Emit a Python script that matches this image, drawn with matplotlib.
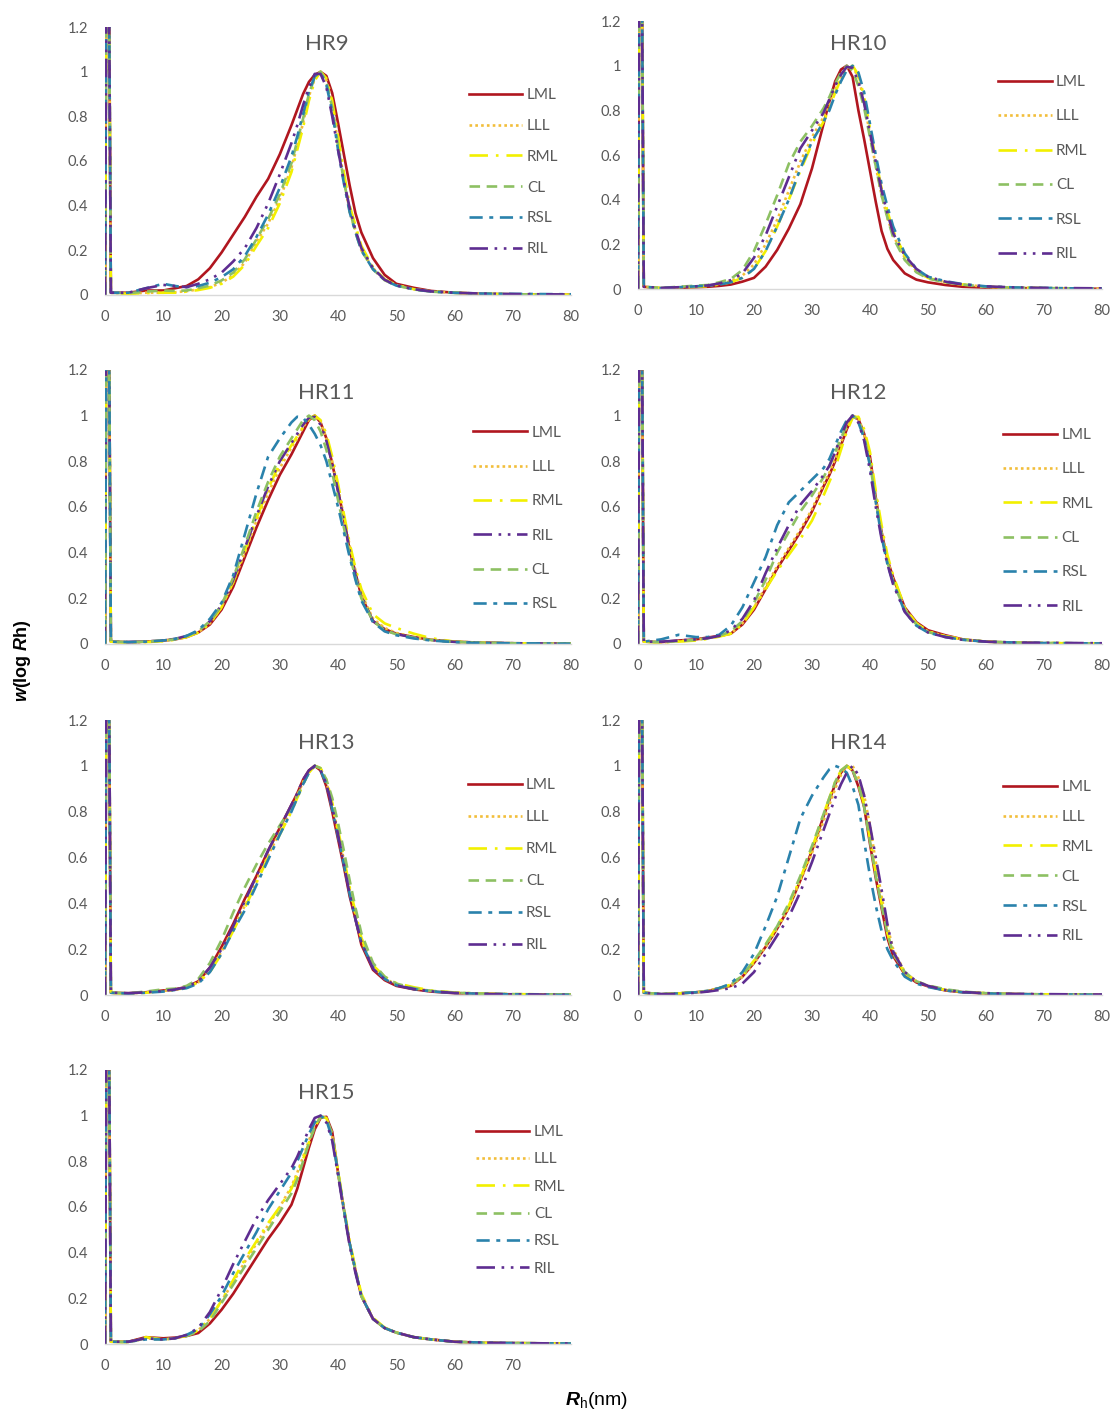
import matplotlib.pyplot as plt
import matplotlib.ticker as tck

plt.rcParams['font.family'] = ['Lato', 'DejaVu Sans']
plt.rcParams['mathtext.fontset'] = 'custom'
plt.rcParams['mathtext.rm'] = 'Liberation Sans'
plt.rcParams['mathtext.it'] = 'Liberation Sans:italic'
plt.rcParams['mathtext.bf'] = 'Liberation Sans:bold'
plt.rcParams['mathtext.bfit'] = 'Liberation Sans:bold:italic'

# hydrodynamic radius grid (nm), shared by every series
RH = [0, 0.2, 0.7, 1, 4, 7, 10, 12, 14, 16, 18, 20, 22, 24, 26, 28, 30, 32, 33, 34, 35, 36,
      37, 38, 39, 40, 41, 42, 43, 44, 46, 48, 50, 53, 56, 60, 65, 70, 75, 80]

# HR9
HR9_LML = [0, 1.3, 1.3, 0.01, 0.01, 0.02, 0.02, 0.03, 0.04, 0.07, 0.12, 0.19, 0.27, 0.35, 0.44, 0.52, 0.63, 0.76, 0.83, 0.9, 0.954, 0.986, 0.999, 0.981, 0.904, 0.77, 0.63, 0.49, 0.365, 0.28, 0.165, 0.09, 0.05, 0.032, 0.018, 0.01, 0.005, 0.003, 0.002, 0.001]
HR9_LLL = [0, 1.3, 1.3, 0.01, 0.005, 0.01, 0.01, 0.012, 0.017, 0.025, 0.035, 0.055, 0.088, 0.145, 0.24, 0.32, 0.43, 0.57, 0.67, 0.77, 0.89, 0.97, 1.0, 0.962, 0.85, 0.68, 0.52, 0.37, 0.29, 0.2, 0.12, 0.068, 0.044, 0.025, 0.016, 0.01, 0.005, 0.003, 0.002, 0.001]
HR9_RML = [0, 1.3, 1.3, 0.01, 0.005, 0.008, 0.01, 0.01, 0.015, 0.022, 0.032, 0.05, 0.082, 0.135, 0.22, 0.3, 0.41, 0.55, 0.65, 0.75, 0.87, 0.96, 1.0, 0.97, 0.87, 0.71, 0.55, 0.4, 0.31, 0.22, 0.125, 0.07, 0.045, 0.026, 0.016, 0.01, 0.005, 0.003, 0.002, 0.001]
HR9_CL = [0, 1.3, 1.3, 0.01, 0.008, 0.015, 0.02, 0.018, 0.02, 0.03, 0.042, 0.065, 0.1, 0.16, 0.25, 0.34, 0.45, 0.59, 0.69, 0.79, 0.9, 0.975, 1.0, 0.955, 0.84, 0.67, 0.51, 0.38, 0.28, 0.2, 0.115, 0.066, 0.042, 0.025, 0.015, 0.009, 0.005, 0.003, 0.002, 0.001]
HR9_RSL = [0, 1.3, 1.3, 0.01, 0.01, 0.03, 0.05, 0.04, 0.035, 0.04, 0.055, 0.08, 0.115, 0.175, 0.26, 0.36, 0.48, 0.62, 0.71, 0.81, 0.91, 0.98, 0.995, 0.94, 0.82, 0.65, 0.5, 0.37, 0.28, 0.2, 0.115, 0.066, 0.042, 0.025, 0.015, 0.01, 0.006, 0.005, 0.004, 0.003]
HR9_RIL = [0, 1.3, 1.3, 0.01, 0.01, 0.03, 0.045, 0.04, 0.035, 0.05, 0.07, 0.1, 0.15, 0.21, 0.3, 0.41, 0.54, 0.68, 0.76, 0.85, 0.93, 0.99, 0.99, 0.93, 0.8, 0.65, 0.51, 0.39, 0.29, 0.21, 0.12, 0.068, 0.043, 0.026, 0.016, 0.01, 0.006, 0.004, 0.003, 0.002]

# HR10
HR10_LML = [0, 1.3, 1.3, 0.01, 0.003, 0.005, 0.008, 0.01, 0.014, 0.02, 0.033, 0.05, 0.1, 0.175, 0.27, 0.38, 0.54, 0.74, 0.84, 0.93, 0.983, 1.0, 0.95, 0.8, 0.67, 0.53, 0.39, 0.26, 0.18, 0.13, 0.07, 0.042, 0.03, 0.018, 0.01, 0.006, 0.004, 0.003, 0.002, 0.001]
HR10_LLL = [0, 1.3, 1.3, 0.01, 0.004, 0.008, 0.012, 0.015, 0.022, 0.035, 0.06, 0.11, 0.2, 0.31, 0.44, 0.57, 0.68, 0.77, 0.83, 0.89, 0.95, 0.99, 0.995, 0.95, 0.84, 0.69, 0.55, 0.42, 0.32, 0.24, 0.14, 0.08, 0.05, 0.03, 0.02, 0.01, 0.006, 0.004, 0.003, 0.002]
HR10_RML = [0, 1.3, 1.3, 0.01, 0.004, 0.007, 0.01, 0.013, 0.02, 0.03, 0.05, 0.09, 0.17, 0.28, 0.4, 0.53, 0.65, 0.75, 0.81, 0.88, 0.94, 0.985, 1.0, 0.96, 0.86, 0.72, 0.58, 0.45, 0.35, 0.26, 0.15, 0.085, 0.05, 0.03, 0.02, 0.01, 0.006, 0.004, 0.003, 0.002]
HR10_CL = [0, 1.3, 1.3, 0.01, 0.005, 0.01, 0.015, 0.018, 0.03, 0.045, 0.085, 0.17, 0.29, 0.42, 0.56, 0.66, 0.73, 0.81, 0.86, 0.92, 0.97, 1.0, 0.98, 0.91, 0.81, 0.68, 0.55, 0.42, 0.32, 0.23, 0.13, 0.075, 0.047, 0.03, 0.02, 0.01, 0.006, 0.004, 0.003, 0.002]
HR10_RSL = [0, 1.3, 1.3, 0.01, 0.004, 0.008, 0.012, 0.015, 0.02, 0.03, 0.05, 0.09, 0.17, 0.28, 0.4, 0.54, 0.66, 0.75, 0.8, 0.87, 0.93, 0.98, 1.0, 0.97, 0.88, 0.74, 0.6, 0.47, 0.37, 0.28, 0.16, 0.09, 0.055, 0.035, 0.022, 0.012, 0.007, 0.005, 0.003, 0.002]
HR10_RIL = [0, 1.3, 1.3, 0.01, 0.005, 0.008, 0.012, 0.016, 0.025, 0.04, 0.07, 0.14, 0.24, 0.37, 0.5, 0.63, 0.71, 0.79, 0.85, 0.91, 0.96, 0.995, 0.99, 0.93, 0.83, 0.7, 0.57, 0.44, 0.34, 0.25, 0.15, 0.09, 0.055, 0.033, 0.02, 0.012, 0.007, 0.005, 0.004, 0.003]

# HR11
HR11_LML = [0, 1.3, 1.3, 0.01, 0.008, 0.01, 0.015, 0.02, 0.03, 0.05, 0.085, 0.15, 0.25, 0.38, 0.51, 0.63, 0.74, 0.83, 0.88, 0.93, 0.98, 1.0, 0.97, 0.9, 0.79, 0.67, 0.55, 0.41, 0.31, 0.21, 0.1, 0.065, 0.045, 0.03, 0.018, 0.01, 0.005, 0.003, 0.002, 0.001]
HR11_LLL = [0, 1.3, 1.3, 0.01, 0.006, 0.008, 0.013, 0.02, 0.03, 0.05, 0.09, 0.16, 0.27, 0.4, 0.54, 0.66, 0.77, 0.86, 0.9, 0.95, 0.985, 1.0, 0.97, 0.9, 0.8, 0.68, 0.56, 0.43, 0.32, 0.22, 0.11, 0.07, 0.048, 0.03, 0.018, 0.01, 0.005, 0.003, 0.002, 0.001]
HR11_RML = [0, 1.3, 1.3, 0.01, 0.005, 0.008, 0.012, 0.018, 0.03, 0.05, 0.09, 0.16, 0.27, 0.41, 0.55, 0.68, 0.79, 0.87, 0.91, 0.95, 0.985, 1.0, 0.98, 0.92, 0.82, 0.7, 0.57, 0.44, 0.33, 0.24, 0.13, 0.09, 0.07, 0.045, 0.025, 0.01, 0.005, 0.003, 0.002, 0.001]
HR11_RIL = [0, 1.3, 1.3, 0.01, 0.008, 0.01, 0.016, 0.022, 0.035, 0.055, 0.1, 0.17, 0.28, 0.42, 0.56, 0.69, 0.8, 0.88, 0.92, 0.96, 0.99, 0.995, 0.96, 0.89, 0.79, 0.67, 0.54, 0.41, 0.3, 0.21, 0.1, 0.062, 0.043, 0.028, 0.017, 0.009, 0.005, 0.003, 0.002, 0.001]
HR11_CL = [0, 1.3, 1.3, 0.01, 0.008, 0.01, 0.015, 0.02, 0.035, 0.055, 0.1, 0.17, 0.29, 0.43, 0.58, 0.71, 0.82, 0.9, 0.94, 0.98, 1.0, 0.98, 0.93, 0.85, 0.75, 0.63, 0.51, 0.39, 0.29, 0.2, 0.1, 0.06, 0.042, 0.027, 0.017, 0.009, 0.005, 0.003, 0.002, 0.001]
HR11_RSL = [0, 1.3, 1.3, 0.01, 0.008, 0.01, 0.015, 0.022, 0.035, 0.06, 0.11, 0.18, 0.3, 0.48, 0.66, 0.82, 0.9, 0.97, 0.995, 0.99, 0.96, 0.92, 0.87, 0.8, 0.7, 0.6, 0.49, 0.38, 0.28, 0.19, 0.095, 0.055, 0.038, 0.024, 0.015, 0.008, 0.004, 0.003, 0.002, 0.001]

# HR12
HR12_LML = [0, 1.3, 1.3, 0.01, 0.008, 0.015, 0.02, 0.028, 0.035, 0.045, 0.085, 0.15, 0.24, 0.33, 0.41, 0.49, 0.58, 0.69, 0.74, 0.8, 0.87, 0.94, 0.995, 0.985, 0.92, 0.82, 0.64, 0.49, 0.37, 0.29, 0.16, 0.095, 0.06, 0.038, 0.02, 0.01, 0.005, 0.003, 0.002, 0.001]
HR12_LLL = [0, 1.3, 1.3, 0.01, 0.006, 0.012, 0.018, 0.025, 0.033, 0.045, 0.09, 0.16, 0.25, 0.34, 0.42, 0.5, 0.59, 0.7, 0.75, 0.81, 0.88, 0.95, 1.0, 0.99, 0.92, 0.8, 0.64, 0.49, 0.37, 0.28, 0.155, 0.09, 0.055, 0.034, 0.02, 0.01, 0.006, 0.004, 0.003, 0.002]
HR12_RML = [0, 1.3, 1.3, 0.01, 0.006, 0.01, 0.015, 0.022, 0.032, 0.045, 0.085, 0.16, 0.24, 0.32, 0.39, 0.46, 0.54, 0.65, 0.71, 0.77, 0.85, 0.93, 0.99, 0.995, 0.94, 0.84, 0.67, 0.52, 0.39, 0.3, 0.16, 0.09, 0.055, 0.034, 0.02, 0.01, 0.006, 0.004, 0.003, 0.002]
HR12_CL = [0, 1.3, 1.3, 0.01, 0.008, 0.012, 0.018, 0.025, 0.035, 0.055, 0.1, 0.18, 0.28, 0.4, 0.49, 0.58, 0.65, 0.73, 0.78, 0.84, 0.9, 0.96, 1.0, 0.98, 0.91, 0.79, 0.63, 0.48, 0.36, 0.27, 0.15, 0.085, 0.052, 0.032, 0.019, 0.01, 0.006, 0.004, 0.003, 0.002]
HR12_RSL = [0, 1.3, 1.3, 0.01, 0.02, 0.04, 0.03, 0.03, 0.04, 0.08, 0.16, 0.27, 0.38, 0.52, 0.62, 0.67, 0.72, 0.77, 0.81, 0.87, 0.93, 0.98, 1.0, 0.97, 0.9, 0.78, 0.62, 0.47, 0.35, 0.27, 0.14, 0.08, 0.05, 0.03, 0.018, 0.01, 0.006, 0.004, 0.003, 0.002]
HR12_RIL = [0, 1.3, 1.3, 0.01, 0.01, 0.015, 0.02, 0.025, 0.035, 0.06, 0.11, 0.19, 0.31, 0.42, 0.52, 0.61, 0.67, 0.74, 0.78, 0.84, 0.91, 0.97, 1.0, 0.97, 0.89, 0.76, 0.6, 0.46, 0.35, 0.26, 0.14, 0.08, 0.05, 0.03, 0.018, 0.01, 0.006, 0.005, 0.004, 0.003]

# HR13
HR13_LML = [0, 1.3, 1.3, 0.01, 0.008, 0.012, 0.02, 0.025, 0.035, 0.06, 0.12, 0.21, 0.31, 0.42, 0.52, 0.63, 0.73, 0.83, 0.88, 0.94, 0.98, 1.0, 0.98, 0.91, 0.8, 0.68, 0.56, 0.43, 0.33, 0.22, 0.11, 0.065, 0.04, 0.025, 0.015, 0.008, 0.005, 0.003, 0.002, 0.001]
HR13_LLL = [0, 1.3, 1.3, 0.01, 0.006, 0.012, 0.018, 0.022, 0.032, 0.055, 0.11, 0.19, 0.29, 0.39, 0.5, 0.61, 0.71, 0.81, 0.87, 0.93, 0.975, 1.0, 0.99, 0.93, 0.83, 0.71, 0.59, 0.46, 0.35, 0.24, 0.12, 0.072, 0.046, 0.03, 0.018, 0.01, 0.005, 0.003, 0.002, 0.001]
HR13_RML = [0, 1.3, 1.3, 0.01, 0.005, 0.01, 0.02, 0.022, 0.033, 0.055, 0.1, 0.18, 0.28, 0.38, 0.49, 0.6, 0.7, 0.8, 0.86, 0.92, 0.97, 1.0, 0.99, 0.94, 0.84, 0.72, 0.6, 0.47, 0.36, 0.25, 0.13, 0.08, 0.052, 0.034, 0.02, 0.011, 0.006, 0.004, 0.003, 0.002]
HR13_CL = [0, 1.3, 1.3, 0.01, 0.008, 0.015, 0.025, 0.028, 0.04, 0.07, 0.14, 0.24, 0.36, 0.47, 0.57, 0.66, 0.74, 0.82, 0.87, 0.92, 0.97, 1.0, 0.99, 0.94, 0.86, 0.75, 0.63, 0.5, 0.38, 0.27, 0.14, 0.08, 0.05, 0.03, 0.018, 0.01, 0.006, 0.004, 0.003, 0.002]
HR13_RSL = [0, 1.3, 1.3, 0.01, 0.006, 0.01, 0.015, 0.022, 0.03, 0.05, 0.1, 0.18, 0.28, 0.37, 0.48, 0.59, 0.7, 0.8, 0.86, 0.92, 0.97, 1.0, 0.98, 0.92, 0.81, 0.69, 0.57, 0.44, 0.33, 0.23, 0.12, 0.07, 0.043, 0.026, 0.016, 0.009, 0.005, 0.003, 0.002, 0.001]
HR13_RIL = [0, 1.3, 1.3, 0.01, 0.008, 0.012, 0.018, 0.024, 0.034, 0.06, 0.12, 0.2, 0.3, 0.41, 0.52, 0.63, 0.73, 0.83, 0.88, 0.94, 0.98, 1.0, 0.98, 0.92, 0.82, 0.7, 0.57, 0.44, 0.33, 0.23, 0.115, 0.068, 0.042, 0.026, 0.016, 0.009, 0.005, 0.003, 0.002, 0.001]

# HR14
HR14_LML = [0, 1.3, 1.3, 0.01, 0.004, 0.007, 0.012, 0.017, 0.03, 0.04, 0.08, 0.14, 0.21, 0.29, 0.38, 0.5, 0.63, 0.78, 0.85, 0.92, 0.97, 1.0, 0.98, 0.91, 0.82, 0.66, 0.51, 0.38, 0.25, 0.17, 0.09, 0.055, 0.038, 0.02, 0.012, 0.007, 0.004, 0.003, 0.002, 0.001]
HR14_LLL = [0, 1.3, 1.3, 0.01, 0.004, 0.007, 0.012, 0.016, 0.028, 0.04, 0.08, 0.14, 0.21, 0.29, 0.38, 0.5, 0.62, 0.76, 0.83, 0.9, 0.96, 0.99, 1.0, 0.95, 0.87, 0.74, 0.58, 0.43, 0.3, 0.2, 0.1, 0.06, 0.04, 0.022, 0.013, 0.008, 0.004, 0.003, 0.002, 0.001]
HR14_RML = [0, 1.3, 1.3, 0.01, 0.004, 0.007, 0.012, 0.016, 0.03, 0.045, 0.085, 0.15, 0.22, 0.3, 0.39, 0.51, 0.64, 0.79, 0.86, 0.93, 0.98, 1.0, 0.98, 0.92, 0.83, 0.68, 0.53, 0.4, 0.27, 0.18, 0.095, 0.058, 0.04, 0.022, 0.013, 0.008, 0.004, 0.003, 0.002, 0.001]
HR14_CL = [0, 1.3, 1.3, 0.01, 0.004, 0.008, 0.013, 0.018, 0.03, 0.045, 0.085, 0.15, 0.22, 0.3, 0.4, 0.52, 0.65, 0.79, 0.86, 0.93, 0.98, 1.0, 0.98, 0.92, 0.82, 0.67, 0.52, 0.39, 0.27, 0.18, 0.1, 0.06, 0.042, 0.025, 0.015, 0.008, 0.004, 0.003, 0.002, 0.001]
HR14_RSL = [0, 1.3, 1.3, 0.01, 0.004, 0.007, 0.012, 0.018, 0.03, 0.05, 0.1, 0.18, 0.3, 0.43, 0.6, 0.77, 0.87, 0.95, 0.985, 1.0, 0.99, 0.97, 0.91, 0.83, 0.67, 0.52, 0.39, 0.28, 0.2, 0.15, 0.08, 0.05, 0.035, 0.02, 0.012, 0.007, 0.004, 0.003, 0.002, 0.001]
HR14_RIL = [0, 1.3, 1.3, 0.01, 0.003, 0.005, 0.01, 0.015, 0.022, 0.03, 0.05, 0.1, 0.18, 0.26, 0.34, 0.45, 0.58, 0.72, 0.79, 0.86, 0.92, 0.97, 1.0, 0.96, 0.87, 0.74, 0.6, 0.46, 0.31, 0.19, 0.1, 0.06, 0.04, 0.022, 0.013, 0.008, 0.005, 0.004, 0.003, 0.002]

# HR15
HR15_LML = [0, 1.3, 1.3, 0.01, 0.01, 0.03, 0.025, 0.028, 0.035, 0.048, 0.09, 0.15, 0.22, 0.3, 0.38, 0.46, 0.53, 0.61, 0.68, 0.77, 0.86, 0.94, 0.99, 0.995, 0.93, 0.75, 0.59, 0.44, 0.32, 0.21, 0.11, 0.07, 0.05, 0.03, 0.02, 0.01, 0.005, 0.004, 0.003, 0.002]
HR15_LLL = [0, 1.3, 1.3, 0.01, 0.008, 0.025, 0.02, 0.025, 0.035, 0.06, 0.11, 0.19, 0.27, 0.36, 0.44, 0.52, 0.6, 0.69, 0.75, 0.82, 0.89, 0.96, 1.0, 0.99, 0.91, 0.75, 0.59, 0.44, 0.32, 0.21, 0.11, 0.07, 0.05, 0.03, 0.02, 0.01, 0.005, 0.004, 0.003, 0.002]
HR15_RML = [0, 1.3, 1.3, 0.01, 0.008, 0.03, 0.02, 0.025, 0.036, 0.06, 0.11, 0.19, 0.28, 0.37, 0.45, 0.53, 0.6, 0.68, 0.74, 0.81, 0.88, 0.95, 0.995, 0.99, 0.92, 0.76, 0.6, 0.45, 0.33, 0.22, 0.115, 0.072, 0.05, 0.03, 0.02, 0.01, 0.005, 0.004, 0.003, 0.002]
HR15_CL = [0, 1.3, 1.3, 0.01, 0.008, 0.025, 0.02, 0.025, 0.035, 0.055, 0.1, 0.18, 0.26, 0.34, 0.42, 0.5, 0.58, 0.66, 0.72, 0.8, 0.88, 0.95, 0.995, 0.99, 0.92, 0.75, 0.59, 0.44, 0.32, 0.21, 0.11, 0.07, 0.05, 0.03, 0.02, 0.01, 0.005, 0.004, 0.003, 0.002]
HR15_RSL = [0, 1.3, 1.3, 0.01, 0.01, 0.02, 0.02, 0.025, 0.04, 0.065, 0.13, 0.21, 0.31, 0.4, 0.49, 0.59, 0.67, 0.75, 0.8, 0.86, 0.92, 0.97, 1.0, 0.98, 0.9, 0.75, 0.59, 0.44, 0.32, 0.21, 0.11, 0.07, 0.05, 0.03, 0.02, 0.01, 0.006, 0.004, 0.003, 0.002]
HR15_RIL = [0, 1.3, 1.3, 0.01, 0.01, 0.025, 0.02, 0.025, 0.04, 0.07, 0.14, 0.24, 0.35, 0.45, 0.55, 0.63, 0.7, 0.77, 0.82, 0.88, 0.94, 0.99, 1.0, 0.97, 0.89, 0.74, 0.58, 0.43, 0.31, 0.21, 0.11, 0.07, 0.05, 0.03, 0.02, 0.01, 0.006, 0.004, 0.003, 0.002]

LINE_STYLES = {
    'LML': dict(color='#B0161F', linestyle='-'),
    'LLL': dict(color='#F2BE3A', linestyle=(0, (1, 1.2))),
    'RML': dict(color='#F2F000', linestyle=(0, (7, 3, 1, 3))),
    'CL': dict(color='#8DC063', linestyle=(0, (4, 2.5))),
    'RSL': dict(color='#2A82AC', linestyle=(0, (5, 2.5, 1.5, 2.5))),
    'RIL': dict(color='#5E2D91', linestyle=(0, (7, 2.5, 1, 2.5, 1, 2.5))),
}

# (title, series in drawing order, axes rect, legend anchor, legend label spacing, title y)
PANELS = [
    ('HR9', [('LML', HR9_LML), ('LLL', HR9_LLL), ('RML', HR9_RML), ('CL', HR9_CL), ('RSL', HR9_RSL), ('RIL', HR9_RIL)],
     [0.0943, 0.7914, 0.4183, 0.1895], (0.781, 0.772), 1.10, 0.937),
    ('HR10', [('LML', HR10_LML), ('LLL', HR10_LLL), ('RML', HR10_RML), ('CL', HR10_CL), ('RSL', HR10_RSL), ('RIL', HR10_RIL)],
     [0.5727, 0.7956, 0.4165, 0.1895], (0.776, 0.799), 1.34, 0.914),
    ('HR11', [('LML', HR11_LML), ('LLL', HR11_LLL), ('RML', HR11_RML), ('RIL', HR11_RIL), ('CL', HR11_CL), ('RSL', HR11_RSL)],
     [0.0943, 0.5446, 0.4183, 0.1938], (0.790, 0.796), 1.33, 0.916),
    ('HR12', [('LML', HR12_LML), ('LLL', HR12_LLL), ('RML', HR12_RML), ('CL', HR12_CL), ('RSL', HR12_RSL), ('RIL', HR12_RIL)],
     [0.5727, 0.5446, 0.4165, 0.1938], (0.787, 0.788), 1.33, 0.916),
    ('HR13', [('LML', HR13_LML), ('LLL', HR13_LLL), ('RML', HR13_RML), ('CL', HR13_CL), ('RSL', HR13_RSL), ('RIL', HR13_RIL)],
     [0.0943, 0.2963, 0.4183, 0.1945], (0.779, 0.789), 1.18, 0.916),
    ('HR14', [('LML', HR14_LML), ('LLL', HR14_LLL), ('RML', HR14_RML), ('CL', HR14_CL), ('RSL', HR14_RSL), ('RIL', HR14_RIL)],
     [0.5727, 0.2963, 0.4165, 0.1945], (0.787, 0.782), 1.04, 0.916),
    ('HR15', [('LML', HR15_LML), ('LLL', HR15_LLL), ('RML', HR15_RML), ('CL', HR15_CL), ('RSL', HR15_RSL), ('RIL', HR15_RIL)],
     [0.0943, 0.0495, 0.4183, 0.1938], (0.796, 0.799), 0.87, 0.916),
]

TEXT_GREY = '#595959'

fig = plt.figure(figsize=(11.14, 14.14), dpi=100)

for title, series, rect, anchor, spacing, title_y in PANELS:
    ax = fig.add_axes(rect)
    for name, values in series:
        assert len(values) == len(RH), (title, name, len(values))
        ax.plot(RH, values, lw=1.9, label=name, **LINE_STYLES[name])

    ax.set_xlim(0, 80)
    ax.set_ylim(0, 1.2)
    if title == 'HR15':
        ax.set_xticks(range(0, 80, 10))
    else:
        ax.set_xticks(range(0, 90, 10))
    ax.set_yticks([0, 0.2, 0.4, 0.6, 0.8, 1.0, 1.2])
    ax.yaxis.set_major_formatter(tck.FuncFormatter(lambda v, p: f'{v:g}'))
    ax.tick_params(axis='both', length=0, labelsize=10.5, labelcolor=TEXT_GREY)
    ax.tick_params(axis='x', pad=11)
    ax.tick_params(axis='y', pad=12)
    for side in ('top', 'right', 'left'):
        ax.spines[side].set_visible(False)
    ax.spines['bottom'].set_color('#D9D9D9')
    ax.spines['bottom'].set_linewidth(1)

    ax.text(0.475, title_y, title, transform=ax.transAxes, ha='center', va='center',
            fontsize=16, color=TEXT_GREY)

    leg = ax.legend(loc='upper left', bbox_to_anchor=anchor, frameon=False, fontsize=11,
                    handlelength=3.5, handletextpad=0.3, labelspacing=spacing,
                    borderpad=0, borderaxespad=0)
    for txt in leg.get_texts():
        txt.set_color(TEXT_GREY)

fig.text(0.02, 0.533, r'$\mathbfit{w}$(log $\mathbfit{R}$h)', rotation=90,
         ha='center', va='center', fontsize=13, fontweight='bold', family='Liberation Sans')
fig.text(0.536, 0.002, r'$\mathbfit{R}_{\mathrm{h}}$(nm)', ha='center', va='bottom',
         fontsize=14, family='Liberation Sans')

fig.savefig('out.png', dpi=100)
